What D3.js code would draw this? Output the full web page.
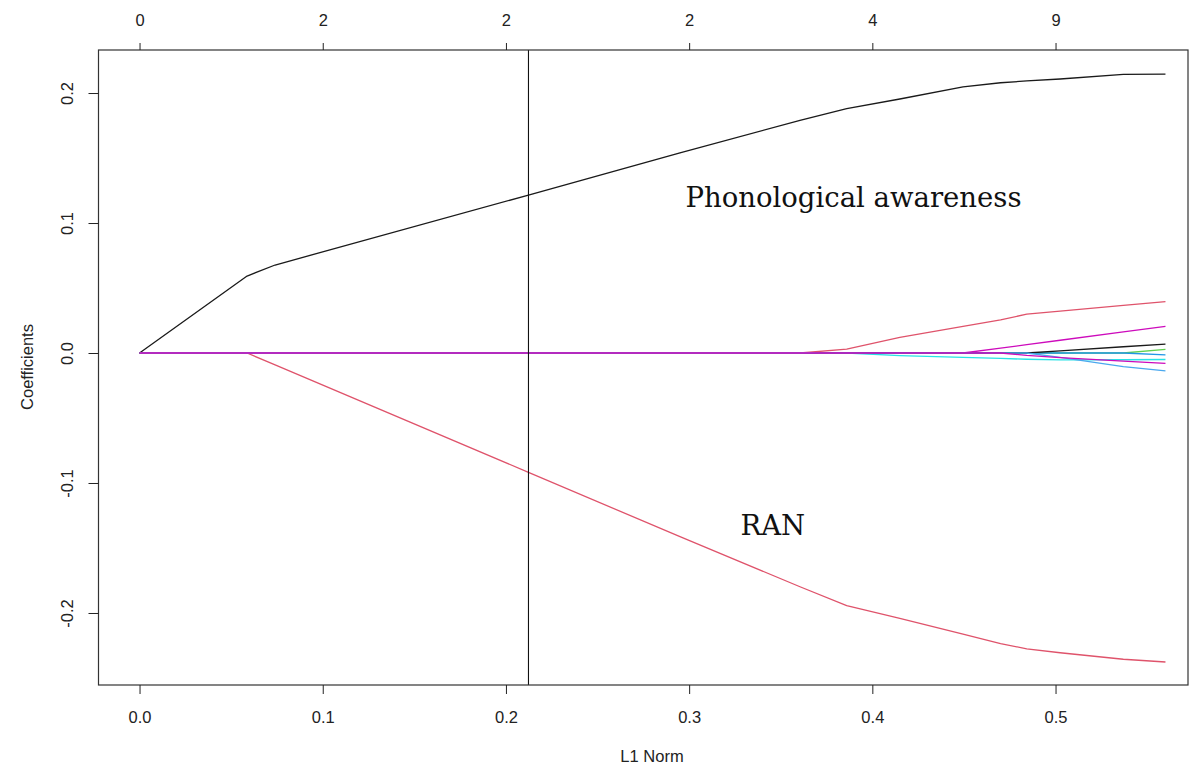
<!DOCTYPE html>
<html>
<head>
<meta charset="utf-8">
<script src="https://cdn.jsdelivr.net/npm/d3@7"></script>
<style>
  html, body { margin: 0; padding: 0; background: #fff; }
  svg { display: block; }
  .axis text { font-family: "Liberation Sans", Arial, sans-serif; font-size: 16.5px; fill: #222; }
</style>
</head>
<body>
<svg id="chart" width="1190" height="766"></svg>
<script>
// ---- data ----
const l1Norm = [0, 0.0587, 0.074, 0.2123, 0.295, 0.3605, 0.386, 0.415, 0.4495, 0.47, 0.4843, 0.5025, 0.537, 0.56];

const coefPhonological = [0, 0.0592, 0.0677, 0.1215, 0.154, 0.179, 0.188, 0.1954, 0.2048, 0.2079, 0.2093, 0.2108, 0.2144, 0.2146];
const coefRAN          = [0, 0, -0.0092, -0.0918, -0.1413, -0.1798, -0.1943, -0.2042, -0.2163, -0.2235, -0.2276, -0.2306, -0.2356, -0.2377];
const coefGreen        = [0, 0, 0, 0, 0, 0, 0, 0, 0, 0, 0, 0, 0, 0.0028];
const coefBlue         = [0, 0, 0, 0, 0, 0, 0, 0, 0, 0, 0, 0, 0, -0.0015];
const coefCyan         = [0, 0, 0, 0, 0, 0, 0, -0.002, -0.0034, -0.0042, -0.0048, -0.0053, -0.0052, -0.005];
const coefMagentaUp    = [0, 0, 0, 0, 0, 0, 0, 0, 0, 0.0038, 0.0064, 0.0098, 0.0162, 0.0205];
const coefBlackSmall   = [0, 0, 0, 0, 0, 0, 0, 0, 0, 0, 0, 0.0017, 0.0048, 0.0069];
const coefPink         = [0, 0, 0, 0, 0, 0, 0.003, 0.0121, 0.0205, 0.0255, 0.0299, 0.0322, 0.0366, 0.0395];
const coefLightBlue    = [0, 0, 0, 0, 0, 0, 0, 0, 0, 0, 0, -0.0033, -0.0105, -0.0137];
const coefMagentaDown  = [0, 0, 0, 0, 0, 0, 0, 0, 0, 0, -0.0018, -0.0035, -0.0062, -0.0079];

const seriesNames  = ["Phonological awareness", "RAN", "v3", "v4", "v5", "v6", "v7", "v8", "v9", "v10"];
const seriesValues = [coefPhonological, coefRAN, coefGreen, coefBlue, coefCyan, coefMagentaUp, coefBlackSmall, coefPink, coefLightBlue, coefMagentaDown];
const seriesColors = ["#1a1a1a", "#DF536B", "#61D04F", "#2297E6", "#28E2E5", "#CD0BBC", "#1a1a1a", "#DF536B", "#4aa8ee", "#CD0BBC"];

const xTicks = [0, 0.1, 0.2, 0.3, 0.4, 0.5];
const yTicks = [-0.2, -0.1, 0, 0.1, 0.2];
const topTickLabels = ["0", "2", "2", "2", "4", "9"];
const selectedL1 = 0.2123;

const annotations = [
  { text: "Phonological awareness", x: 0.298, y: 0.112 },
  { text: "RAN", x: 0.328, y: -0.140 }
];

// ---- layout ----
const svg = d3.select("#chart");
const box = { left: 98.5, right: 1188, top: 50, bottom: 685 };

const x = d3.scaleLinear().domain([-0.0224, 0.5723]).range([box.left, box.right]);
const y = d3.scaleLinear().domain([-0.2554, 0.2331]).range([box.bottom, box.top]);
const fmt = d => d3.format(".1f")(d).replace("\u2212", "-");

// lines
const line = d3.line().x((d, i) => x(l1Norm[i])).y(d => y(d));
svg.append("g").selectAll("path")
  .data(seriesValues)
  .join("path")
  .attr("d", d => line(d))
  .attr("fill", "none")
  .attr("stroke", (d, i) => seriesColors[i])
  .attr("stroke-width", 1.3)
  .attr("stroke-linejoin", "round");

// vertical reference line
svg.append("line")
  .attr("x1", x(selectedL1)).attr("x2", x(selectedL1))
  .attr("y1", box.top).attr("y2", box.bottom)
  .attr("stroke", "#111").attr("stroke-width", 1.1);

// box
svg.append("rect")
  .attr("x", box.left).attr("y", box.top)
  .attr("width", box.right - box.left).attr("height", box.bottom - box.top)
  .attr("fill", "none").attr("stroke", "#333").attr("stroke-width", 1.2);

// bottom axis
const gx = svg.append("g").attr("class", "axis")
  .attr("transform", `translate(0,${box.bottom})`)
  .call(d3.axisBottom(x).tickValues(xTicks).tickFormat(fmt).tickSize(9));
gx.select(".domain").remove();
gx.selectAll("line").attr("stroke", "#222");
gx.selectAll("text").attr("y", 38).attr("dy", 0);

// top axis
const gt = svg.append("g").attr("class", "axis")
  .attr("transform", `translate(0,${box.top})`)
  .call(d3.axisTop(x).tickValues(xTicks).tickFormat((d, i) => topTickLabels[i]).tickSize(7));
gt.select(".domain").remove();
gt.selectAll("line").attr("stroke", "#222");
gt.selectAll("text").attr("y", -24).attr("dy", 0);

// left axis
const gy = svg.append("g").attr("class", "axis")
  .attr("transform", `translate(${box.left},0)`)
  .call(d3.axisLeft(y).tickValues(yTicks).tickFormat(fmt).tickSize(10));
gy.select(".domain").remove();
gy.selectAll("line").attr("stroke", "#222");
gy.selectAll("text")
  .attr("transform", "rotate(-90)")
  .attr("x", 0).attr("y", -26).attr("dy", 0)
  .attr("text-anchor", "middle");

// axis titles
svg.append("text")
  .attr("transform", `translate(33,${(box.top + box.bottom) / 2 - 0.5}) rotate(-90)`)
  .attr("text-anchor", "middle")
  .style("font-family", "'Liberation Sans', Arial, sans-serif")
  .style("font-size", "16.5px").style("fill", "#222")
  .text("Coefficients");

svg.append("text")
  .attr("x", 652).attr("y", 762)
  .attr("text-anchor", "middle")
  .style("font-family", "'Liberation Sans', Arial, sans-serif")
  .style("font-size", "16.5px").style("fill", "#222")
  .text("L1 Norm");

// annotations
svg.append("g").selectAll("text")
  .data(annotations)
  .join("text")
  .attr("x", d => x(d.x)).attr("y", d => y(d.y))
  .style("font-family", "'DejaVu Serif', serif")
  .style("font-size", "27.5px").style("fill", "#111")
  .text(d => d.text);
</script>
</body>
</html>
